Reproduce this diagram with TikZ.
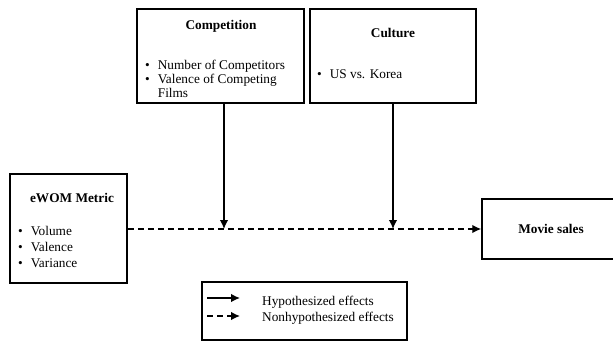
\documentclass[tikz,border=0pt]{standalone}
\usepackage{fontspec}
\setmainfont{Liberation Serif}
\usepackage{tikz}
\usetikzlibrary{arrows.meta, positioning}

\begin{document}
\begin{tikzpicture}[
    x=1pt, y=-1pt,
    box/.style={draw, line width=1.5pt, inner sep=0pt},
    txt/.style={font=\fontsize{13.3}{14}\selectfont, inner sep=0pt},
    title/.style={font=\fontsize{13.3}{14}\selectfont\bfseries, inner sep=0pt},
    arrow/.style={-{Latex[length=9pt,width=8.5pt]}, line width=1.4pt},
    dasharrow/.style={arrow, dash pattern=on 6pt off 4pt}
]
    \useasboundingbox (0,0) rectangle (613,342);

    % Boxes
    \node[box, minimum width=167pt, minimum height=94pt] (comp) at (220.5,56) {};
    \node[box, minimum width=166pt, minimum height=94pt] (cult) at (393,56) {};
    \node[box, minimum width=117pt, minimum height=109pt] (ewom) at (68.5,228.5) {};
    \node[box, minimum width=138pt, minimum height=60pt, font=\fontsize{13.3}{14}\selectfont\bfseries] (sales) at (551,229) {Movie sales};
    \node[box, minimum width=205pt, minimum height=58pt] (legend) at (304.5,311) {};

    % Box contents
    \node[title, anchor=base] (comptitle) at (221,29.5) {Competition};
    \node[txt, anchor=base west] (complist) at (145,70) {\begin{tabular}[t]{@{}l@{\hspace{8pt}}l@{}}\textbullet & Number of Competitors\\ \textbullet & Valence of Competing\\ & Films\end{tabular}};
    \node[title, anchor=base] (culttitle) at (393,37.5) {Culture};
    \node[txt, anchor=base west] (cultlist) at (317,79) {\begin{tabular}[t]{@{}l@{\hspace{8pt}}l@{}}\textbullet & US vs. Korea\end{tabular}};
    \node[title, anchor=base] (ewomtitle) at (72,202.5) {eWOM Metric};
    \node[txt, anchor=base west] (ewomlist) at (18,235) {\begin{tabular}[t]{@{}l@{\hspace{8pt}}l@{}}\textbullet & Volume\\[2pt] \textbullet & Valence\\[2pt] \textbullet & Variance\end{tabular}};

    % Effects
    \coordinate (m1) at (224,229);
    \coordinate (m2) at (393,229);
    \draw[dasharrow] (ewom.east |- sales.west) -- (sales.west);
    \draw[arrow] (comp.south -| m1) -- (m1);
    \draw[arrow] (cult.south) -- (m2);

    % Legend
    \coordinate (l1a) at (207,298);
    \coordinate (l1b) at (240,298);
    \coordinate (l2a) at (207,316);
    \coordinate (l2b) at (240,316);
    \draw[arrow] (l1a) -- (l1b);
    \draw[dasharrow] (l2a) -- (l2b);
    \node[txt, anchor=base west] (hyp) at (262,305) {Hypothesized effects};
    \node[txt, anchor=base west] (nonhyp) at (262,321) {Nonhypothesized effects};
\end{tikzpicture}
\end{document}
